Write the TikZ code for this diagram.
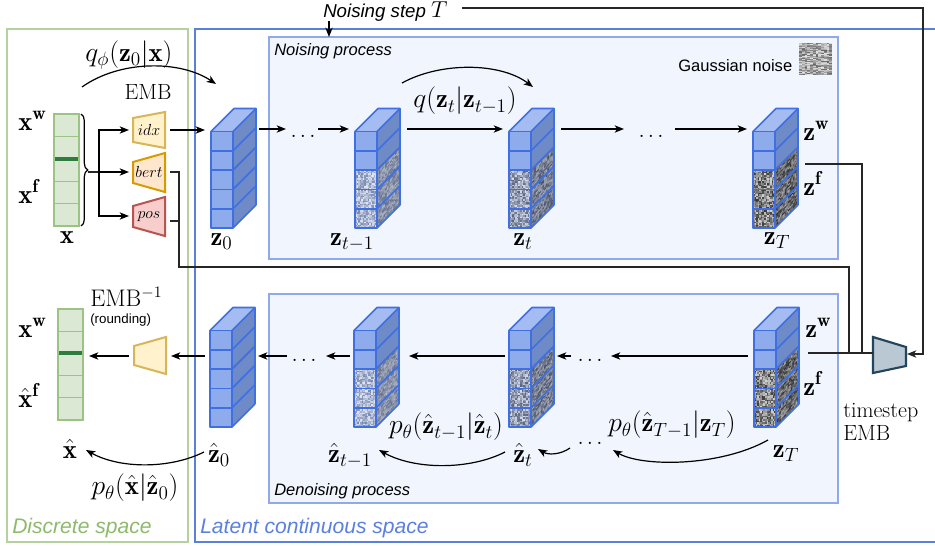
\documentclass[tikz,border=0pt]{standalone}
\usepackage{fontspec}
\setsansfont{Liberation Sans}
\usetikzlibrary{arrows.meta,decorations.pathreplacing}
\definecolor{greenbd}{HTML}{B5D29E}
\definecolor{greentx}{HTML}{8DBA6C}
\definecolor{bluebd}{HTML}{5A80DD}
\definecolor{bluetx}{HTML}{5B80E0}
\definecolor{procfill}{HTML}{F1F5FE}
\definecolor{procbd}{HTML}{8FA9EA}
\definecolor{barfill}{HTML}{DAE8D4}
\definecolor{barbd}{HTML}{9AC384}
\definecolor{bardark}{HTML}{2E7D3F}
\definecolor{cfront}{HTML}{8EABEB}
\definecolor{ctop}{HTML}{A4BCF1}
\definecolor{cside}{HTML}{6E8BC8}
\definecolor{cedge}{HTML}{3F6FE0}
\definecolor{yelfill}{HTML}{FFF2CC}
\definecolor{yelbd}{HTML}{D6B656}
\definecolor{orafill}{HTML}{FFE6CC}
\definecolor{orabd}{HTML}{D79B00}
\definecolor{redfill}{HTML}{F8CECC}
\definecolor{redbd}{HTML}{B85450}
\definecolor{tsfill}{HTML}{BAC8D3}
\definecolor{tsbd}{HTML}{23445D}
\definecolor{noiseAlo}{HTML}{7A8AB0}
\definecolor{noiseAhi}{HTML}{E0E6F5}
\definecolor{noiseBlo}{HTML}{5A6583}
\definecolor{noiseBhi}{HTML}{D6DCEA}
\definecolor{noiseClo}{HTML}{3A3A3A}
\definecolor{noiseChi}{HTML}{D2D2D2}
\definecolor{noiseGlo}{HTML}{666666}
\definecolor{noiseGhi}{HTML}{E4E4E4}
\newcommand\cubeW{22}
\newcommand\cubeH{19.3}
\newcommand\cubeD{23}
\newcommand\noisefill[5]{%
  \foreach \ii in {1,...,#3}{%
    \foreach \jj in {1,...,#4}{%
      \pgfmathrandominteger{\rr}{0}{100}%
      \fill[#5lo!\rr!#5hi] ({(\ii-1)*#1/#3},{(\jj-1)*#2/#4}) rectangle ++({#1/#3+0.2},{#2/#4+0.2});
    }%
  }%
}
\newcommand\cube[3]{%
\begin{scope}[shift={(#1,#2)}]
  \fill[ctop] (0,0) -- (\cubeW,0) -- ({\cubeW+\cubeD},-\cubeD) -- (\cubeD,-\cubeD) -- cycle;
  \fill[cside] (\cubeW,0) -- ({\cubeW+\cubeD},-\cubeD) -- ({\cubeW+\cubeD},{5*\cubeH-\cubeD}) -- (\cubeW,{5*\cubeH}) -- cycle;
  \fill[cfront] (0,0) rectangle (\cubeW,{5*\cubeH});
  \if\relax\detokenize{#3}\relax\else
    \foreach \k in {2,3,4}{%
      \begin{scope}[shift={(0,{\k*\cubeH})}]\noisefill{\cubeW}{\cubeH}{14}{12}{#3}\end{scope}
      \begin{scope}[shift={(\cubeW,{\k*\cubeH})},yslant=1]\noisefill{\cubeD}{\cubeH}{14}{12}{#3}
        \fill[black,opacity=0.2] (0,0) rectangle (\cubeD,\cubeH);\end{scope}
    }%
  \fi
  \draw[cubeedge] (0,0) rectangle (\cubeW,{5*\cubeH});
  \foreach \k in {1,...,4}{\draw[cubeedge] (0,{\k*\cubeH}) -- (\cubeW,{\k*\cubeH});}
  \foreach \k in {0,...,5}{\draw[cubeedge] (\cubeW,{\k*\cubeH}) -- ++(\cubeD,-\cubeD);}
  \draw[cubeedge] (0,0) -- (\cubeD,-\cubeD) -- ({\cubeW+\cubeD},-\cubeD) -- ({\cubeW+\cubeD},{5*\cubeH-\cubeD});
\end{scope}}
\begin{document}
\begin{tikzpicture}[x=0.75pt,y=-0.75pt,
  arr/.style={-{Stealth[length=7pt,width=5.5pt,inset=2pt]}, line width=0.9pt},
  wire/.style={line width=0.8pt, draw=black!85},
  cubeedge/.style={draw=cedge, line width=1.25pt, line join=round},
  mlab/.style={inner sep=0pt, font=\fontsize{20}{24}\selectfont},
  tlab/.style={inner sep=0pt, font=\fontsize{16.5}{19}\selectfont},
  trap/.style={line width=1.5pt, line join=miter},
  dots/.style={inner sep=0pt, anchor=base, font=\fontsize{20}{24}\selectfont}
]
\pgfmathsetseed{7}
\useasboundingbox (0,0) rectangle (935,546);
\fill[white] (0,0) rectangle (935,546);

% region boxes
\draw[greenbd, line width=1.5pt] (7,29) rectangle (188,542);
\draw[bluebd, line width=1.7pt] (940,29) -- (195,29) -- (195,542) -- (940,542);
\draw[procbd, fill=procfill, line width=1pt] (269,37) rectangle (838,259);
\draw[procbd, fill=procfill, line width=1pt] (269,294) rectangle (838,503);

\node[anchor=base west, inner sep=0pt, font=\sffamily\itshape\fontsize{15.8}{18}\selectfont, text=greentx] (lDisc) at (12,533) {Discrete space};
\node[anchor=base west, inner sep=0pt, font=\sffamily\itshape\fontsize{15.8}{18}\selectfont, text=bluetx] (lLat) at (200,533) {Latent continuous space};
\node[anchor=base west, inner sep=0pt, font=\sffamily\itshape\fontsize{12.4}{14}\selectfont] (lNp) at (274,55) {Noising process};
\node[anchor=base west, inner sep=0pt, font=\sffamily\itshape\fontsize{12.4}{14}\selectfont] (lDp) at (274,495) {Denoising process};
\node[anchor=base west, inner sep=0pt, font=\sffamily\fontsize{12.4}{14}\selectfont] (lGn) at (678,71) {Gaussian noise};
\begin{scope}[shift={(799,43)}]\noisefill{33}{32}{12}{32}{noiseG}\end{scope}

% noising step
\node[anchor=base west, inner sep=0pt, font=\sffamily\itshape\fontsize{14}{16}\selectfont] (nstep) at (323,17.5) {Noising step \fontsize{18}{20}\selectfont$T$};
\coordinate (nsA) at (329,21);
\coordinate (nsB) at (329,37);
\draw[arr] (nsA) -- (nsB);

% discrete bars
\foreach \k in {0,...,4} \draw[barbd, fill=barfill, line width=1pt] (54,{114+\k*22.4}) rectangle (79,{114+(\k+1)*22.4});
\draw[bardark, line width=3pt] (55,158.8) -- (78,158.8);
\foreach \k in {0,...,4} \draw[barbd, fill=barfill, line width=1pt] (58,{309+\k*22.2}) rectangle (83,{309+(\k+1)*22.2});
\draw[bardark, line width=3pt] (59,353.4) -- (82,353.4);

\draw[decorate, decoration={brace, amplitude=5pt}, line width=0.9pt] (81,114) -- (81,226);
\coordinate (bt) at (88,172);
\coordinate (br) at (99,172);
\coordinate (idxW) at (129,130);
\coordinate (bertW) at (129,172);
\coordinate (posW) at (129,216);
\draw[wire] (bt) -- (br);
\draw[arr] (br) |- (idxW);
\draw[arr] (br) -- (bertW);
\draw[arr] (br) |- (posW);

% embedding trapezoids
\draw[trap, draw=yelbd, fill=yelfill] (133,118) -- (165,112) -- (165,148) -- (133,142) -- cycle;
\node[inner sep=0pt, font=\fontsize{12}{13}\selectfont] (tIdx) at (149,130) {$idx$};
\draw[trap, draw=orabd, fill=orafill] (133,162) -- (165,153) -- (165,192) -- (133,183) -- cycle;
\node[inner sep=0pt, font=\fontsize{12}{13}\selectfont] (tBert) at (149,172) {$bert$};
\draw[trap, draw=redbd, fill=redfill] (133,206) -- (165,197) -- (165,236) -- (133,227) -- cycle;
\node[inner sep=0pt, font=\fontsize{12}{13}\selectfont] (tPos) at (149,217) {$pos$};
\draw[trap, draw=yelbd, fill=yelfill] (134,346) -- (166,337) -- (166,374) -- (134,365) -- cycle;
\draw[trap, draw=tsbd, fill=tsfill, line width=1.6pt] (873,337) -- (906,347) -- (906,366) -- (873,373) -- cycle;

% cubes
\cube{211}{131.5}{}
\cube{355}{131.5}{noiseA}
\cube{509}{131.5}{noiseB}
\cube{753}{131.5}{noiseC}
\cube{210}{330.5}{}
\cube{354}{330.5}{noiseA}
\cube{509}{330.5}{noiseB}
\cube{754}{330.5}{noiseC}

% dots
\node[dots] (dA) at (303,137) {.\kern2pt.\kern2pt.};
\node[dots] (dB) at (651,137) {.\kern2pt.\kern2pt.};
\node[dots] (dC) at (304,361) {.\kern2pt.\kern2pt.};
\node[dots] (dD) at (590,361) {.\kern2pt.\kern2pt.};
\node[dots] (dE) at (590,444) {.\kern2pt.\kern2pt.};

% top row arrows
\coordinate (idxE) at (170,130);  \coordinate (z0W) at (205,130);
\coordinate (c0E) at (259,129);  \coordinate (dAw) at (286,129);
\coordinate (dAe) at (318,129);  \coordinate (c1W) at (349,129);
\coordinate (c1E) at (407,129);  \coordinate (c2W) at (503,129);
\coordinate (c2E) at (561,129);  \coordinate (dBw) at (624,129);
\coordinate (dBe) at (675,129);  \coordinate (c3W) at (747,129);
\draw[arr] (idxE) -- (z0W);
\draw[arr] (c0E) -- (dAw);
\draw[arr] (dAe) -- (c1W);
\draw[arr] (c1E) -- (c2W);
\draw[arr] (c2E) -- (dBw);
\draw[arr] (dBe) -- (c3W);

% bottom row arrows
\coordinate (c7W) at (748,356); \coordinate (dDe) at (611,356);
\coordinate (dDw) at (571,356); \coordinate (c6E) at (557,356);
\coordinate (c6W) at (505,356); \coordinate (c5E) at (409,356);
\coordinate (c5W) at (350,356); \coordinate (dCe) at (326,356);
\coordinate (dCw) at (287,356); \coordinate (c4E) at (258,356);
\coordinate (c4W) at (205,356); \coordinate (embE) at (171,356);
\coordinate (embW) at (129,356); \coordinate (barE) at (89,356);
\draw[arr] (c7W) -- (dDe);
\draw[arr] (dDw) -- (c6E);
\draw[arr] (c6W) -- (c5E);
\draw[arr] (c5W) -- (dCe);
\draw[arr] (dCw) -- (c4E);
\draw[arr] (c4W) -- (embE);
\draw[arr] (embW) -- (barE);

% wires to timestep EMB
\coordinate (bertE) at (170,172);
\coordinate (posE) at (170,221);
\coordinate (wj) at (179,267);
\coordinate (wk) at (849,353);
\coordinate (zTe) at (805,164);
\coordinate (wl) at (862,353);
\coordinate (zbTe) at (808,353);
\coordinate (tsW) at (873,353);
\coordinate (tsTop) at (923,8);
\coordinate (tsE) at (907,354);
\coordinate (nsR) at (462,8);
\draw[wire] (bertE) -| (wj) -| (wk);
\draw[wire] (posE) -- (posE -| wj);
\draw[wire] (zTe) -| (wl);
\draw[wire] (zbTe) -- (tsW);
\draw[arr, black!85, line width=0.8pt] (nsR) -- (tsTop) |- (tsE);

% curved arrows
\coordinate (qphiS) at (82,87);   \coordinate (qphiE) at (216,84);
\coordinate (qS) at (402,83);     \coordinate (qE) at (533,87);
\coordinate (pxS) at (204,452);   \coordinate (pxE) at (86,450);
\coordinate (ptS) at (505,452);   \coordinate (ptE) at (379,450);
\coordinate (psS) at (570,448);   \coordinate (psE) at (538,449);
\coordinate (pTS) at (768,440);   \coordinate (pTE) at (613,450);
\draw[arr] (qphiS) .. controls (120,60) and (180,60) .. (qphiE);
\draw[arr] (qS) .. controls (440,62) and (500,62) .. (qE);
\draw[arr] (pxS) .. controls (170,469) and (120,469) .. (pxE);
\draw[arr] (ptS) .. controls (470,470) and (415,470) .. (ptE);
\draw[arr] (psS) .. controls (560,455) and (548,455) .. (psE);
\draw[arr] (pTS) .. controls (720,467) and (641,467) .. (pTE);

% math labels
\node[mlab] (lqphi) at (129,55) {$q_\phi(\mathbf{z}_0|\mathbf{x})$};
\node[tlab, anchor=base] (lEMB) at (148,99) {EMB};
\node[mlab] (lq) at (465,101) {$q(\mathbf{z}_t|\mathbf{z}_{t-1})$};
\node[mlab] (lpx) at (135,488) {$p_\theta(\hat{\mathbf{x}}|\hat{\mathbf{z}}_0)$};
\node[mlab] (lpt) at (446,427) {$p_\theta(\hat{\mathbf{z}}_{t-1}|\hat{\mathbf{z}}_t)$};
\node[mlab] (lpT) at (672,425) {$p_\theta(\hat{\mathbf{z}}_{T-1}|\mathbf{z}_T)$};

\node[mlab, anchor=base] (lz0) at (221.5,245) {$\mathbf{z}_0$};
\node[mlab, anchor=base] (lzt1) at (352,245) {$\mathbf{z}_{t-1}$};
\node[mlab, anchor=base] (lzt) at (523,245) {$\mathbf{z}_t$};
\node[mlab, anchor=base] (lzT) at (777,244) {$\mathbf{z}_T$};
\node[mlab, anchor=base west] (lzw) at (803,140) {$\mathbf{z}^{\mathbf{w}}$};
\node[mlab, anchor=base west] (lzf) at (803,195) {$\mathbf{z}^{\mathbf{f}}$};
\node[mlab, anchor=base west] (lxw) at (18,130) {$\mathbf{x}^{\mathbf{w}}$};
\node[mlab, anchor=base west] (lxf) at (18,203) {$\mathbf{x}^{\mathbf{f}}$};
\node[mlab, anchor=base] (lx) at (67,243) {$\mathbf{x}$};
\node[mlab, anchor=base west] (lxw2) at (18,337) {$\mathbf{x}^{\mathbf{w}}$};
\node[mlab, anchor=base west] (lxf2) at (18,407) {$\hat{\mathbf{x}}^{\mathbf{f}}$};
\node[mlab, anchor=base] (lxh) at (70,458) {$\hat{\mathbf{x}}$};
\node[mlab, anchor=base] (lzh0) at (219,462) {$\hat{\mathbf{z}}_0$};
\node[mlab, anchor=base] (lzht1) at (350,462) {$\hat{\mathbf{z}}_{t-1}$};
\node[mlab, anchor=base] (lzht) at (523,462) {$\hat{\mathbf{z}}_t$};
\node[mlab, anchor=base] (lzbT) at (786,457) {$\mathbf{z}_T$};
\node[mlab, anchor=base west] (lzbw) at (805,337) {$\mathbf{z}^{\mathbf{w}}$};
\node[mlab, anchor=base west] (lzbf) at (803,395) {$\mathbf{z}^{\mathbf{f}}$};
\node[anchor=base west, inner sep=0pt, font=\fontsize{18}{21}\selectfont] (lembinv) at (90,306) {EMB$^{-1}$};
\node[anchor=base west, inner sep=0pt, font=\sffamily\fontsize{10}{12}\selectfont] (lround) at (90,323) {(rounding)};
\node[tlab, anchor=base west] (lts1) at (843,417) {timestep};
\node[tlab, anchor=base west] (lts2) at (843,440) {EMB};
\end{tikzpicture}
\end{document}
